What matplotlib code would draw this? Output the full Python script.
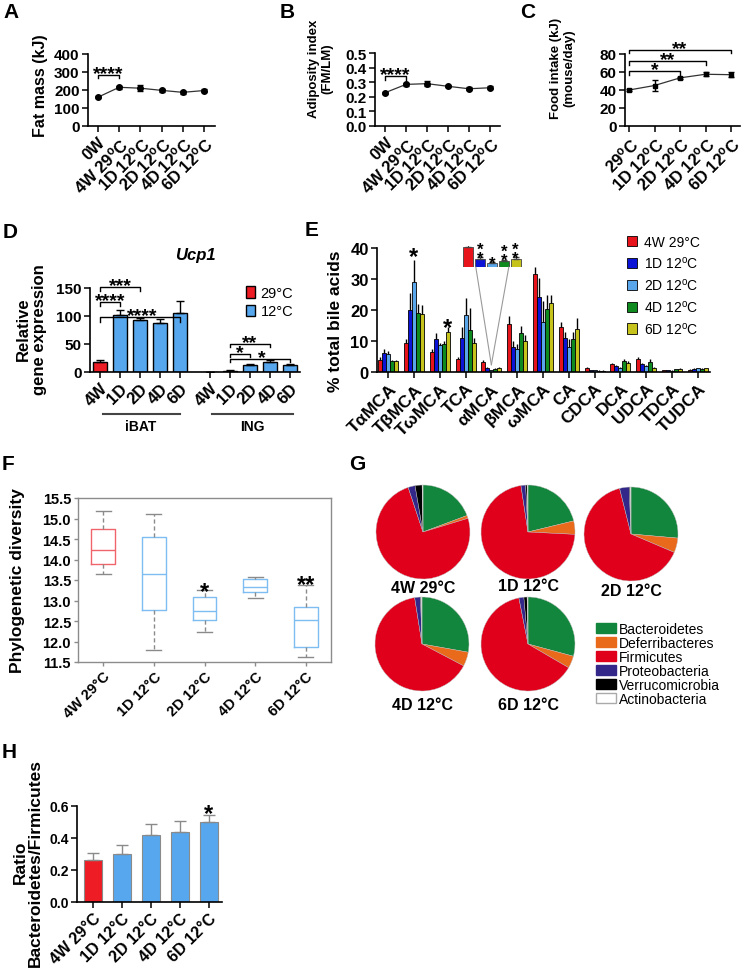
import numpy as np
import matplotlib
matplotlib.use('Agg')
import matplotlib.pyplot as plt
from matplotlib.patches import Patch, ConnectionPatch

plt.rcParams['font.family'] = ['Liberation Sans', 'DejaVu Sans']
plt.rcParams['font.weight'] = 'bold'
plt.rcParams['axes.labelweight'] = 'bold'
plt.rcParams['mathtext.fontset'] = 'stix'
plt.rcParams['mathtext.default'] = 'regular'

# ---- data ----
deg = '$^{o}$C'
fat_labels = ['0W', '4W 29' + deg, '1D 12' + deg, '2D 12' + deg, '4D 12' + deg, '6D 12' + deg]
fat_mass = [160, 215, 210, 198, 187, 197]
fat_err = [6, 8, 16, 8, 9, 8]
adiposity = [0.228, 0.285, 0.29, 0.272, 0.255, 0.262]
adip_err = [0.008, 0.01, 0.018, 0.008, 0.01, 0.01]
food_labels = ['29' + deg, '1D 12' + deg, '2D 12' + deg, '4D 12' + deg, '6D 12' + deg]
food = [40, 45, 53.5, 57.5, 57]
food_err = [1.5, 6, 1.5, 2, 3]

ucp1_groups = ['4W', '1D', '2D', '4D', '6D']
ucp1_ibat = [18, 102, 92, 88, 106]
ucp1_ibat_err = [3, 9, 4, 6, 20]
ucp1_ing = [0.5, 2.5, 13, 18, 13]
ucp1_ing_err = [0.3, 0.5, 0.8, 3, 2]

bile_acids = ['T$\\alpha$MCA', 'T$\\beta$MCA', 'T$\\omega$MCA', 'TCA', '$\\alpha$MCA', '$\\beta$MCA',
              '$\\omega$MCA', 'CA', 'CDCA', 'DCA', 'UDCA', 'TDCA', 'TUDCA']
ba_4w = [4.0, 9.5, 6.5, 4.2, 3.3, 15.5, 31.5, 14.5, 1.2, 2.5, 4.3, 0.5, 0.8]
ba_4w_err = [0.7, 1.0, 1.0, 0.8, 0.5, 2.5, 2.3, 1.5, 0.3, 0.4, 0.6, 0.1, 0.2]
ba_1d = [6.0, 20.0, 10.5, 11.0, 1.4, 8.0, 24.3, 11.0, 0.6, 2.0, 2.5, 0.5, 1.1]
ba_1d_err = [1.5, 5.5, 2.0, 3.5, 0.3, 2.0, 6.0, 2.0, 0.2, 0.4, 0.4, 0.1, 0.2]
ba_2d = [5.7, 29.0, 8.7, 18.5, 0.7, 7.5, 16.0, 8.0, 0.5, 1.3, 1.8, 0.4, 1.2]
ba_2d_err = [1.0, 7.0, 0.8, 5.5, 0.1, 1.5, 7.0, 2.5, 0.1, 0.3, 0.4, 0.1, 0.2]
ba_4d = [3.5, 19.0, 9.0, 13.5, 1.05, 12.5, 20.3, 10.5, 0.4, 3.7, 3.3, 0.9, 1.0]
ba_4d_err = [0.5, 3.0, 1.0, 7.0, 0.2, 2.5, 4.5, 2.5, 0.1, 0.6, 0.8, 0.2, 0.2]
ba_6d = [3.5, 18.7, 12.8, 9.5, 1.4, 10.0, 22.2, 14.0, 0.4, 3.0, 1.4, 1.0, 1.2]
ba_6d_err = [0.5, 3.0, 1.8, 1.5, 0.2, 2.0, 2.8, 3.5, 0.1, 0.5, 0.3, 0.2, 0.2]
ba_series = ['4W 29°C', '1D 12' + deg, '2D 12' + deg, '4D 12' + deg, '6D 12' + deg]
ba_stars = ['*\n*', '*', '*\n*', '*\n*']

pd_groups = ['4W 29°C', '1D 12°C', '2D 12°C', '4D 12°C', '6D 12°C']
pd_whislo = [13.65, 11.80, 12.22, 13.07, 11.63]
pd_q1 = [13.88, 12.77, 12.53, 13.20, 11.86]
pd_med = [14.22, 13.65, 12.75, 13.33, 12.52]
pd_q3 = [14.75, 14.55, 13.08, 13.53, 12.83]
pd_whishi = [15.18, 15.12, 13.25, 13.58, 13.38]
pd_sig = ['', '', '*', '', '**']

phyla = ['Bacteroidetes', 'Deferribacteres', 'Firmicutes', 'Proteobacteria', 'Verrucomicrobia', 'Actinobacteria']
pie_4w = [19.3, 1.0, 74.6, 2.4, 2.4, 0.3]
pie_1d = [21.2, 4.6, 71.8, 1.6, 0.5, 0.3]
pie_2d = [26.4, 5.0, 64.7, 3.3, 0.3, 0.3]
pie_4d = [27.8, 4.9, 64.8, 2.0, 0.2, 0.3]
pie_6d = [29.2, 4.2, 63.5, 1.7, 1.1, 0.3]

ratio = [0.26, 0.30, 0.42, 0.44, 0.50]
ratio_err = [0.048, 0.058, 0.065, 0.065, 0.045]

# colours
red = '#ee1c24'
blue12 = '#56a7ee'
ba_colors = ['#e8141c', '#0b14d6', '#5aa6ea', '#0f8a1e', '#c6c41c']
pie_colors = ['#12863c', '#ea6a1c', '#e0001b', '#33278a', '#000000', '#ffffff']

W, H = 747, 970
fig = plt.figure(figsize=(W / 100, H / 100), dpi=100)


def pax(x0, y0, x1, y1):
    # axes from pixel box (top-left / bottom-right)
    return fig.add_axes([x0 / W, 1 - y1 / H, (x1 - x0) / W, (y1 - y0) / H])


def style(ax, fs=11):
    ax.spines['top'].set_visible(False)
    ax.spines['right'].set_visible(False)
    for s in ['left', 'bottom']:
        ax.spines[s].set_linewidth(1.2)
    ax.tick_params(direction='out', length=4, width=1.1, labelsize=fs, pad=2)


def sig(ax, x, y, txt, fs=14, gap=1.0, lsp=1.2):
    # asterisks sitting just above y (gap in points)
    ax.annotate(txt, (x, y), xytext=(0, gap - 0.40 * fs), textcoords='offset points',
                ha='center', va='baseline', fontsize=fs, linespacing=lsp, annotation_clip=False)


def bracket(ax, x1, x2, y, h, txt, tx=None, fs=14):
    ax.plot([x1, x1, x2, x2], [y - h, y, y, y - h], color='k', lw=1, clip_on=False)
    if tx is None:
        tx = (x1 + x2) / 2
    sig(ax, tx, y, txt, fs=fs, gap=3.2)


def letter(x, y, s):
    fig.text(x / W, 1 - y / H, s, fontsize=15, weight='bold', va='top', ha='left')


# ---- A ----
axA = pax(88, 55, 215, 127)
style(axA)
xa = np.arange(len(fat_mass))
axA.plot(xa, fat_mass, color='#333333', lw=0.9)
axA.errorbar(xa, fat_mass, yerr=fat_err, fmt='o', color='k', ms=4, capsize=2, elinewidth=1)
axA.set_xlim(-0.47, 5.52)
axA.set_ylim(0, 400)
axA.set_yticks([0, 100, 200, 300, 400])
axA.set_xticks(xa)
axA.set_xticklabels(fat_labels, rotation=45, ha='right', rotation_mode='anchor', fontsize=12)
axA.set_ylabel('Fat mass (kJ)', fontsize=11.5)
axA.yaxis.set_label_coords(-0.315, 0.57)
bracket(axA, 0, 1, 285, 20, '****')
letter(3, 3, 'A')

# ---- B ----
axB = pax(375, 54, 500, 127)
style(axB)
axB.plot(xa, adiposity, color='#333333', lw=0.9)
axB.errorbar(xa, adiposity, yerr=adip_err, fmt='o', color='k', ms=4, capsize=2, elinewidth=1)
axB.set_xlim(-0.48, 5.48)
axB.set_ylim(0, 0.5)
axB.set_yticks(np.arange(0, 0.51, 0.1))
axB.set_yticklabels([f'{v:.1f}' for v in np.arange(0, 0.51, 0.1)])
axB.set_xticks(xa)
axB.set_xticklabels(fat_labels, rotation=45, ha='right', rotation_mode='anchor', fontsize=12)
axB.set_ylabel('Adiposity index\n(FM/LM)', fontsize=9.5, linespacing=1.1)
axB.yaxis.set_label_coords(-0.336, 0.8)
bracket(axB, 0, 1, 0.342, 0.025, '****')
letter(280, 3, 'B')

# ---- C ----
axC = pax(625, 55, 740, 127)
style(axC)
xc = np.arange(len(food))
axC.plot(xc, food, color='#333333', lw=0.9)
axC.errorbar(xc, food, yerr=food_err, fmt='s', color='k', ms=3.5, capsize=2, elinewidth=1)
axC.set_xlim(-0.16, 4.35)
axC.set_ylim(0, 80)
axC.set_yticks([0, 20, 40, 60, 80])
axC.set_xticks(xc)
axC.set_xticklabels(food_labels, rotation=45, ha='right', rotation_mode='anchor', fontsize=12)
axC.set_ylabel('Food intake (kJ)\n(mouse/day)', fontsize=9.5, linespacing=1.1)
axC.yaxis.set_label_coords(-0.435, 0.82)
bracket(axC, 0, 2, 61, 4, '*')
bracket(axC, 0, 3, 72, 4, '**')
bracket(axC, 0, 4, 85, 4, '**')
letter(520, 3, 'C')

# ---- D ----
axD = pax(90, 289, 300, 373)
style(axD)
pos_ibat = np.arange(5)
pos_ing = np.arange(5) + 5.5
dcols = [red] + [blue12] * 4
axD.bar(pos_ibat, ucp1_ibat, 0.72, color=dcols, edgecolor='k', lw=1,
        yerr=[np.zeros(5), ucp1_ibat_err], error_kw=dict(capsize=3, elinewidth=1, capthick=1))
axD.bar(pos_ing, ucp1_ing, 0.72, color=dcols, edgecolor='k', lw=1,
        yerr=[np.zeros(5), ucp1_ing_err], error_kw=dict(capsize=3, elinewidth=1, capthick=1))
axD.set_xlim(-0.5, 10.0)
axD.set_ylim(0, 150)
axD.set_yticks([0, 50, 100, 150])
axD.set_xticks(np.concatenate([pos_ibat, pos_ing]))
axD.set_xticklabels(ucp1_groups * 2, rotation=45, ha='right', rotation_mode='anchor', fontsize=12)
axD.set_ylabel('Relative\ngene expression', fontsize=12, linespacing=1.05)
axD.yaxis.set_label_coords(-0.205, 0.52)
axD.text(0.5, 1.4, 'Ucp1', transform=axD.transAxes, ha='center', va='center',
         fontsize=12, style='italic', weight='bold')
xt = axD.get_xaxis_transform()
axD.plot([0.15, 4.0], [-0.5, -0.5], transform=xt, color='#444444', lw=1.5, clip_on=False)
axD.plot([5.6, 9.65], [-0.5, -0.5], transform=xt, color='#444444', lw=1.5, clip_on=False)
axD.text(2.05, -0.64, 'iBAT', transform=xt, ha='center', va='center', fontsize=10)
axD.text(7.6, -0.64, 'ING', transform=xt, ha='center', va='center', fontsize=10)
bracket(axD, 0, 2, 152, 8, '***')
bracket(axD, 0, 1, 125, 8, '****')
bracket(axD, 0, 4, 98, 8, '****', tx=2.1)
bracket(axD, 6.5, 8.5, 50, 6, '**')
bracket(axD, 6.5, 7.5, 32, 6, '*')
bracket(axD, 6.5, 9.5, 24, 6, '*', tx=8.1)
axD.legend(handles=[Patch(facecolor=red, edgecolor='k'), Patch(facecolor=blue12, edgecolor='k')],
           labels=['29°C', '12°C'], loc='upper left', bbox_to_anchor=(246 / W, 1 - 287 / H),
           bbox_transform=fig.transFigure, frameon=False, prop=dict(size=10.5, weight='normal'),
           handlelength=0.6, handleheight=0.8, handletextpad=0.4, labelspacing=0.3,
           borderpad=0, borderaxespad=0)
letter(3, 223, 'D')

# ---- E ----
axE = pax(377, 249, 710, 373)
style(axE, fs=12)
xg = np.arange(len(bile_acids))
bw = 0.155
ba_vals = [ba_4w, ba_1d, ba_2d, ba_4d, ba_6d]
ba_errs = [ba_4w_err, ba_1d_err, ba_2d_err, ba_4d_err, ba_6d_err]
for i in range(5):
    axE.bar(xg + (i - 2) * bw, ba_vals[i], bw, color=ba_colors[i], edgecolor='k', lw=0.6,
            yerr=[np.zeros(len(xg)), ba_errs[i]], error_kw=dict(capsize=0, elinewidth=1, ecolor='k'),
            label=ba_series[i])
axE.set_xlim(-0.43, 12.47)
axE.set_ylim(0, 40)
axE.set_yticks([0, 10, 20, 30, 40])
axE.set_xticks(xg)
axE.set_xticklabels(bile_acids, rotation=45, ha='right', rotation_mode='anchor', fontsize=12.5)
axE.set_ylabel('% total bile acids', fontsize=12.5)
axE.yaxis.set_label_coords(-0.102, 0.42)
sig(axE, 1 + 0 * bw, ba_2d[1] + ba_2d_err[1], '*', fs=17, gap=5)
sig(axE, 2 + 2 * bw, ba_6d[2] + ba_6d_err[2], '*', fs=17, gap=1.5)
axE.legend(loc='upper left', bbox_to_anchor=(627 / W, 1 - 236 / H), bbox_transform=fig.transFigure,
           frameon=False, prop=dict(size=10, weight='normal'), handlelength=0.75, handleheight=0.75,
           handletextpad=0.5, labelspacing=0.42, borderpad=0, borderaxespad=0)

# inset zoom on alpha-MCA
axI = pax(462, 247, 522, 268)
am = [v[4] for v in ba_vals]
am_err = [e[4] for e in ba_errs]
xi = np.arange(5)
axI.bar(xi, am, 0.85, color=ba_colors, edgecolor='#444444', lw=0.6,
        yerr=[np.zeros(5), am_err], error_kw=dict(capsize=2, elinewidth=0.8, ecolor='#444444'))
axI.set_xlim(-0.55, 4.55)
axI.set_ylim(0, 3.5)
axI.axis('off')
for i in range(1, 5):
    sig(axI, xi[i], am[i] + am_err[i], ba_stars[i - 1], fs=12, gap=0.8, lsp=0.5)
for xa_ in [0.23, 0.78]:
    fig.add_artist(ConnectionPatch(xyA=(xa_, 0), coordsA=axI.transAxes, xyB=(4, 2.3), coordsB=axE.transData,
                                   color='#9a9a9a', lw=0.8))
letter(305, 221, 'E')

# ---- F ----
axF = pax(78, 499, 331, 663)
stats = [dict(med=pd_med[i], q1=pd_q1[i], q3=pd_q3[i], whislo=pd_whislo[i], whishi=pd_whishi[i], fliers=[])
         for i in range(5)]
bp = axF.bxp(stats, positions=np.arange(5), widths=0.47, showfliers=False, capwidths=0.3)
box_cols = ['#f0646c'] + ['#7dbdf2'] * 4
for i in range(5):
    bp['boxes'][i].set_color(box_cols[i])
    bp['boxes'][i].set_linewidth(1)
    bp['medians'][i].set_color(box_cols[i])
    bp['medians'][i].set_linewidth(1)
    for w in bp['whiskers'][2 * i:2 * i + 2]:
        w.set_color('#8a8a8a')
        w.set_linestyle((0, (3, 2)))
        w.set_linewidth(1)
    for c in bp['caps'][2 * i:2 * i + 2]:
        c.set_color('#8a8a8a')
        c.set_linewidth(1)
    if pd_sig[i]:
        sig(axF, i, pd_whishi[i], pd_sig[i], fs=17, gap=1.0 if pd_sig[i] == '*' else 2.5)
for s in axF.spines.values():
    s.set_color('#8c8c8c')
    s.set_linewidth(1)
axF.set_xlim(-0.5, 4.5)
axF.set_ylim(11.5, 15.5)
axF.set_yticks(np.arange(11.5, 15.51, 0.5))
axF.set_yticklabels([f'{v:.1f}' for v in np.arange(11.5, 15.51, 0.5)])
axF.set_xticks(np.arange(5))
axF.set_xticklabels(pd_groups, rotation=45, ha='right', rotation_mode='anchor', fontsize=11.5)
axF.tick_params(direction='out', length=3, width=1, labelsize=10.5, color='#8c8c8c', pad=2)
axF.set_ylabel('Phylogenetic diversity', fontsize=12.5)
axF.yaxis.set_label_coords(-0.21, 0.5)
letter(2, 455, 'F')

# ---- G ----
pies = [pie_4w, pie_1d, pie_2d, pie_4d, pie_6d]
pie_centres = [(423, 533), (528, 533), (631, 535), (422, 645), (528, 645)]
pie_off = [0.19, 0.14, 0.2, 0.28, 0.28]
r = 47
for vals, (cx, cy), lab, off in zip(pies, pie_centres, pd_groups, pie_off):
    ax = pax(cx - r, cy - r, cx + r, cy + r)
    ax.pie(vals, colors=pie_colors, startangle=90, counterclock=False,
           wedgeprops=dict(edgecolor='#bdbdbd', linewidth=0.3))
    ax.set_xlim(-1, 1)
    ax.set_ylim(-1, 1)
    ax.text(0, -1 - off, lab, ha='center', va='center', fontsize=11.5, weight='bold', clip_on=False)
fig.legend(handles=[Patch(facecolor=c, edgecolor='#aaaaaa' if c == '#ffffff' else c) for c in pie_colors],
           labels=phyla, loc='upper left', bbox_to_anchor=(596 / W, 1 - 623 / H), frameon=False,
           prop=dict(size=10, weight='normal'), handlelength=1.45, handleheight=0.72,
           handletextpad=0.2, labelspacing=0.0, borderpad=0, borderaxespad=0)
letter(349, 455, 'G')

# ---- H ----
axH = pax(77, 807, 222, 903)
style(axH, fs=10)
xh = np.arange(len(ratio))
axH.bar(xh, ratio, 0.63, color=[red] + [blue12] * 4, edgecolor='#8a8a8a', lw=0.8,
        yerr=[np.zeros(5), ratio_err], error_kw=dict(capsize=4, elinewidth=1, capthick=1, ecolor='#8a8a8a'))
sig(axH, 4, ratio[4] + ratio_err[4], '*', fs=17, gap=3.2)
axH.set_xlim(-0.55, 4.45)
axH.set_ylim(0, 0.6)
axH.set_yticks([0, 0.2, 0.4, 0.6])
axH.set_yticklabels(['0.0', '0.2', '0.4', '0.6'])
axH.set_xticks(xh)
axH.set_xticklabels(pd_groups, rotation=45, ha='right', rotation_mode='anchor', fontsize=11.5)
axH.set_ylabel('Ratio\nBacteroidetes/Firmicutes', fontsize=12.5, linespacing=1.05)
axH.yaxis.set_label_coords(-0.234, 0.42)
letter(2, 743, 'H')

fig.savefig('out.png', dpi=100, facecolor='white')
